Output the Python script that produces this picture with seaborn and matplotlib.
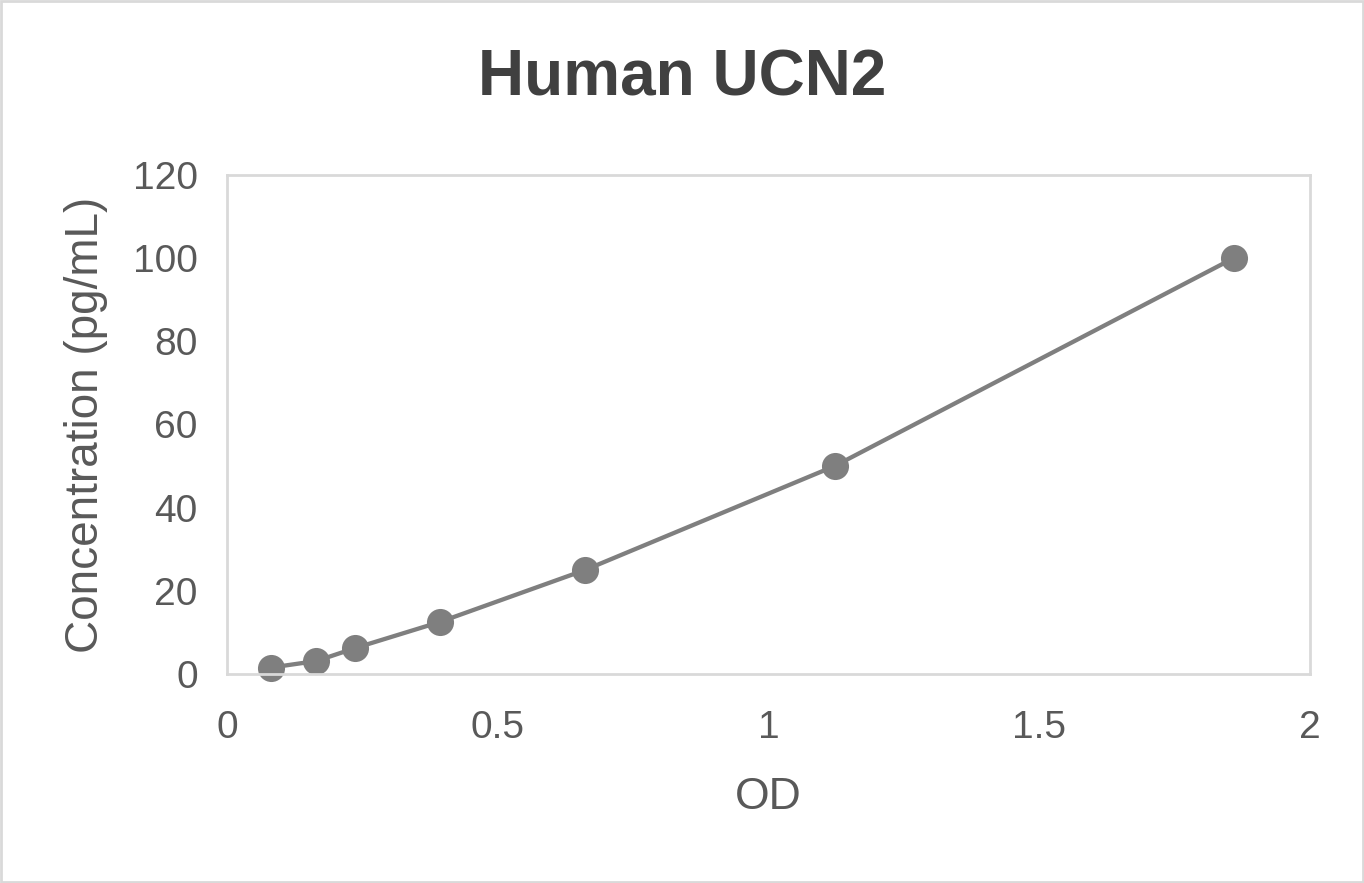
import matplotlib
matplotlib.use("Agg")
import matplotlib.pyplot as plt
import seaborn as sns
import pandas as pd
from matplotlib.patches import Rectangle

# standard curve values
od = [0.082, 0.165, 0.237, 0.393, 0.661, 1.122, 1.859]
conc = [1.56, 3.12, 6.25, 12.5, 25, 50, 100]
x_ticks = [0, 0.5, 1, 1.5, 2]
x_tick_labels = ["0", "0.5", "1", "1.5", "2"]
y_ticks = [0, 20, 40, 60, 80, 100, 120]

df = pd.DataFrame({"OD": od, "Concentration": conc})

sns.set_theme(style="white")
plt.rcParams["font.family"] = ["Liberation Sans", "DejaVu Sans"]

tick_col = "#595959"
grid_col = "#d9d9d9"
mark_col = "#7f7f7f"

fig = plt.figure(figsize=(13.64, 8.83), dpi=100)
ax = fig.add_axes([227 / 1364, 1 - 674 / 883, (1310 - 227) / 1364, (674 - 175) / 883])

sns.lineplot(data=df, x="OD", y="Concentration", ax=ax, color=mark_col,
             linewidth=3.1, marker="o", markersize=19.5, markeredgewidth=0,
             markerfacecolor=mark_col, clip_on=False)

ax.set_xlim(0, 2)
ax.set_ylim(0, 120)
ax.set_xticks(x_ticks)
ax.set_xticklabels(x_tick_labels)
ax.set_yticks(y_ticks)
ax.tick_params(axis="both", length=0, labelsize=28, colors=tick_col)
ax.tick_params(axis="x", pad=26)
ax.tick_params(axis="y", pad=21)

for s in ax.spines.values():
    s.set_color(grid_col)
    s.set_linewidth(2)

ax.set_xlabel("OD", fontsize=32, color=tick_col, labelpad=22)
ax.set_ylabel("Concentration (pg/mL)", fontsize=33, color=tick_col, labelpad=18)

fig.text(0.5, 1 - 96 / 883, "Human UCN2", ha="center", va="baseline",
         fontsize=46, fontweight="bold", color="#404040")

# light frame around the whole chart
fig.patches.append(Rectangle((0.001, 0.001), 0.998, 0.998, transform=fig.transFigure,
                             fill=False, edgecolor=grid_col, linewidth=2))

fig.savefig("out.png", dpi=100, facecolor="white")
